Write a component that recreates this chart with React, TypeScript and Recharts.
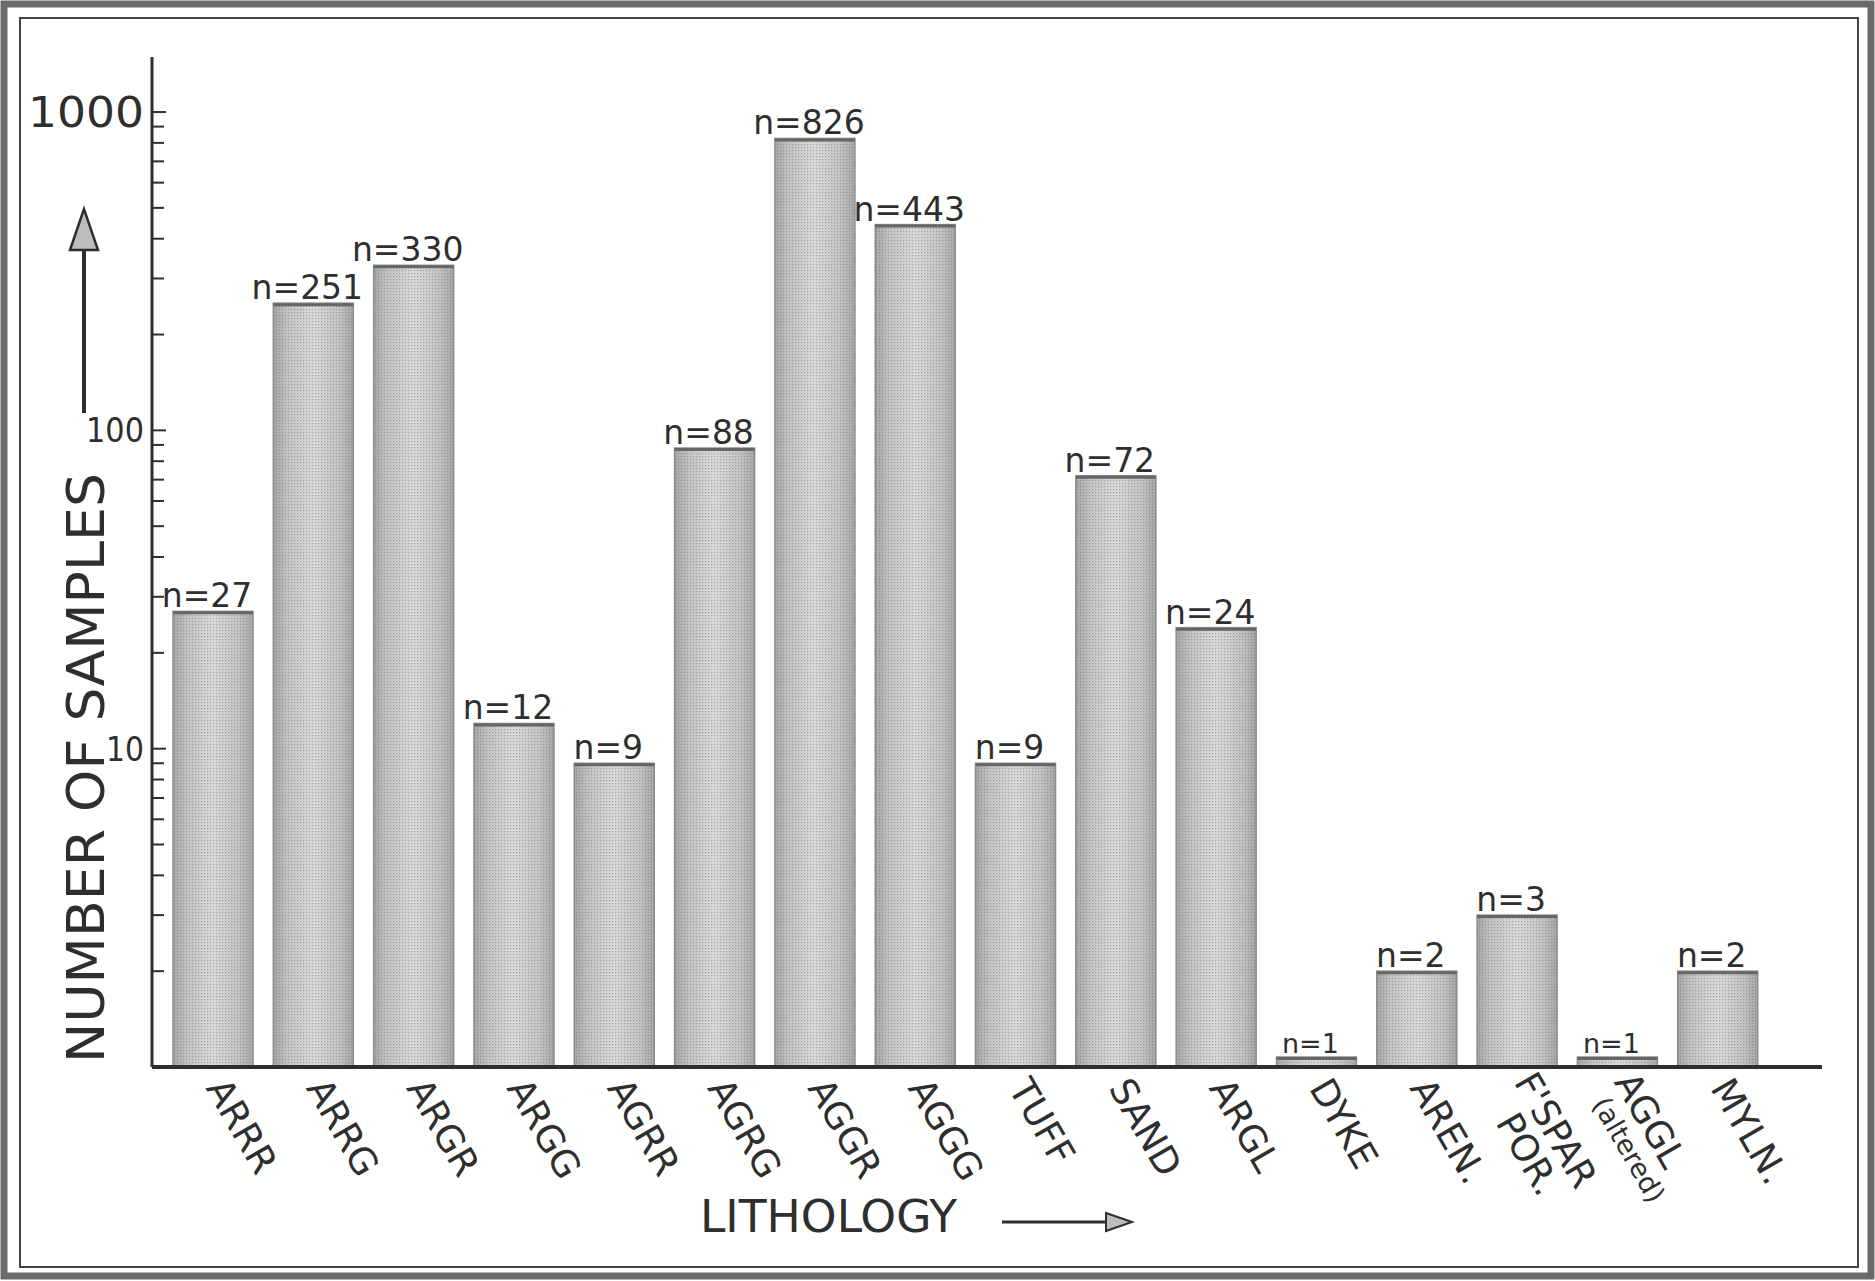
import { BarChart, Bar, XAxis, YAxis, LabelList } from "recharts";

const categories = [
  "ARRR",
  "ARRG",
  "ARGR",
  "ARGG",
  "AGRR",
  "AGRG",
  "AGGR",
  "AGGG",
  "TUFF",
  "SAND",
  "ARGL",
  "DYKE",
  "AREN.",
  "F'SPAR\nPOR.",
  "AGGL\n(altered)",
  "MYLN.",
];
const sampleCounts = [27, 251, 330, 12, 9, 88, 826, 443, 9, 72, 24, 1, 2, 3, 1, 2];
const yTicks = [
  2, 3, 4, 5, 6, 7, 8, 9, 10, 20, 30, 40, 50, 60, 70, 80, 90, 100, 200, 300,
  400, 500, 600, 700, 800, 900, 1000,
];
const labeledTicks = [10, 100, 1000];

const data = categories.map((name, i) => ({ name, n: sampleCounts[i] }));

const INK = "#2e2e2e";
const FONT = "'DejaVu Sans', Verdana, sans-serif";

// hand-lettered tick labels differ in size
const tickLabelWidth: Record<number, number> = { 10: 38, 100: 58, 1000: 116 };

function YTick(props: any) {
  const { x, y, payload } = props;
  const v = payload.value;
  const major = labeledTicks.includes(v);
  const big = v === 1000;
  return (
    <g>
      <line x1={x} y1={y} x2={x + (major ? 14 : 12)} y2={y} stroke={INK} strokeWidth={2} />
      {major && (
        <text
          x={x - 8 - tickLabelWidth[v]}
          y={y}
          dy={big ? 15 : 12}
          fontSize={big ? 42 : 34}
          fill={INK}
          fontFamily={FONT}
          textLength={tickLabelWidth[v]}
          lengthAdjust="spacingAndGlyphs"
        >
          {v}
        </text>
      )}
    </g>
  );
}

function XTick(props: any) {
  const { x, y, payload } = props;
  const lines = String(payload.value).split("\n");
  const two = lines.length > 1;
  const ax = x - 8 + (two ? 4 : 0);
  const ay = y + 21 - (two ? 6 : 0);
  return (
    <text
      transform={`translate(${ax},${ay}) rotate(60)`}
      fontSize={37}
      fill={INK}
      fontFamily={FONT}
    >
      {lines.map((t, i) => {
        const small = t.startsWith("(");
        return (
          <tspan
            key={i}
            x={i === 0 ? 0 : small ? 8 : 26}
            dy={i === 0 ? 0 : small ? 30 : 36}
            fontSize={small ? 27 : 37}
          >
            {t}
          </tspan>
        );
      })}
    </text>
  );
}

function BarLabel(props: any) {
  const { x, y, width, value } = props;
  return (
    <text
      x={x + width / 2 - 6}
      y={y - 4}
      textAnchor="middle"
      fontSize={value === 1 ? 27 : 33}
      fill={INK}
      fontFamily={FONT}
    >
      {`n=${value}`}
    </text>
  );
}

function ShadedBar(props: any) {
  const { x, y, width, height } = props;
  if (height <= 0) return null;
  return (
    <g>
      <rect x={x} y={y} width={width} height={height} fill="url(#barShade)" />
      <rect x={x} y={y} width={width} height={height} fill="url(#stipple)" />
      <rect x={x} y={y} width={width} height={height} fill="none" stroke="#8c8c8c" strokeWidth={1.5} />
      <line x1={x} y1={y + 1.5} x2={x + width} y2={y + 1.5} stroke="#666" strokeWidth={3} />
    </g>
  );
}

function Decorations() {
  return (
    <svg width={1875} height={1281} style={{ position: "absolute", left: 0, top: 0 }}>
      <rect x={0} y={0} width={1875} height={1281} fill="#ffffff" />
      <rect x={4} y={4} width={1867} height={1272} fill="none" stroke="#6a6a6a" strokeWidth={7} />
      <rect x={20} y={18} width={1838} height={1249} fill="none" stroke="#444" strokeWidth={2} />

      <text
        transform="translate(104,768) rotate(-90)"
        textAnchor="middle"
        fontSize={52}
        fill={INK}
        fontFamily={FONT}
        textLength={590}
        lengthAdjust="spacingAndGlyphs"
      >
        NUMBER OF SAMPLES
      </text>
      <line x1={84} y1={413} x2={84} y2={248} stroke={INK} strokeWidth={4} />
      <polygon points="84,209 70,250 98,250" fill="#bdbdbd" stroke={INK} strokeWidth={2.5} />

      <text
        x={700}
        y={1232}
        fontSize={45}
        fill={INK}
        fontFamily={FONT}
        textLength={257}
        lengthAdjust="spacingAndGlyphs"
      >
        LITHOLOGY
      </text>
      <line x1={1002} y1={1222} x2={1106} y2={1222} stroke={INK} strokeWidth={3} />
      <polygon points="1132,1222 1106,1213 1106,1231" fill="#bdbdbd" stroke={INK} strokeWidth={2} />
    </svg>
  );
}

export default function App() {
  return (
    <div style={{ position: "absolute", left: 0, top: 0, width: 1875, height: 1281, background: "#fff" }}>
      <Decorations />
      <div style={{ position: "absolute", left: 0, top: 0 }}>
        <BarChart
          width={1875}
          height={1281}
          data={data}
          margin={{ top: 57, right: 53, bottom: 64, left: 52 }}
          barCategoryGap="10%"
        >
          <defs>
            <linearGradient id="barShade" x1="0" y1="0" x2="1" y2="0">
              <stop offset="0%" stopColor="#a6a6a6" />
              <stop offset="18%" stopColor="#c4c4c4" />
              <stop offset="50%" stopColor="#dadada" />
              <stop offset="82%" stopColor="#c4c4c4" />
              <stop offset="100%" stopColor="#a6a6a6" />
            </linearGradient>
            <pattern id="stipple" width={3} height={3} patternUnits="userSpaceOnUse">
              <rect x={0} y={0} width={1.2} height={1.2} fill="#707070" opacity={0.5} />
            </pattern>
          </defs>
          <XAxis
            dataKey="name"
            height={150}
            interval={0}
            tickSize={0}
            tickMargin={0}
            tickLine={false}
            padding={{ left: 11, right: 54 }}
            axisLine={{ stroke: INK, strokeWidth: 4 }}
            tick={<XTick />}
          />
          <YAxis
            scale="log"
            domain={[1, 1489]}
            allowDataOverflow
            ticks={yTicks}
            interval={0}
            width={100}
            tickSize={0}
            tickMargin={0}
            tickLine={false}
            axisLine={{ stroke: INK, strokeWidth: 3 }}
            tick={<YTick />}
          />
          <Bar dataKey="n" isAnimationActive={false} minPointSize={10} shape={<ShadedBar />}>
            <LabelList dataKey="n" content={<BarLabel />} />
          </Bar>
        </BarChart>
      </div>
    </div>
  );
}
